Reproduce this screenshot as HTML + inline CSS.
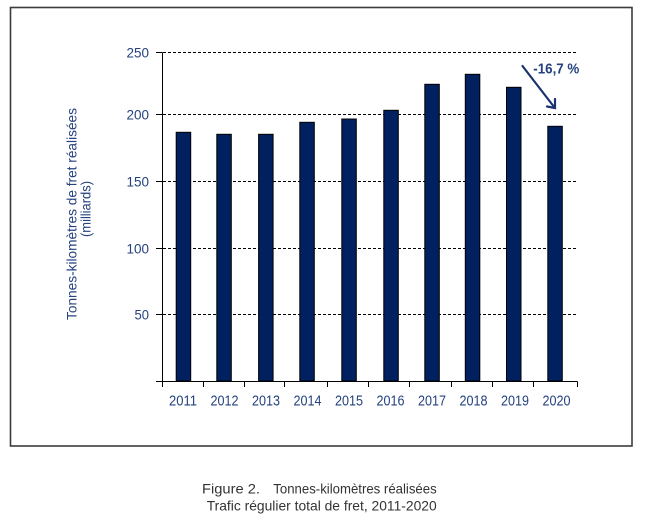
<!DOCTYPE html>
<html>
<head>
<meta charset="utf-8">
<style>
  html, body { margin:0; padding:0; background:#ffffff; }
  body { width:653px; height:524px; overflow:hidden; }
  svg { display:block; }
  text { font-family: "Liberation Sans", Arial, sans-serif; }
</style>
</head>
<body>
<svg width="653" height="524" viewBox="0 0 653 524" xmlns="http://www.w3.org/2000/svg">
  <rect x="0" y="0" width="653" height="524" fill="#ffffff"/>
  <!-- frame -->
  <rect x="10.5" y="7.5" width="621.5" height="438.5" fill="none" stroke="#3c3c3c" stroke-width="1.6"/>

  <!-- gridlines -->
  <g stroke="#000" stroke-width="1" stroke-dasharray="3 2" fill="none">
    <line x1="163" y1="52.5" x2="577.5" y2="52.5"/>
    <line x1="163" y1="114.5" x2="577.5" y2="114.5"/>
    <line x1="163" y1="181.5" x2="577.5" y2="181.5"/>
    <line x1="163" y1="248.5" x2="577.5" y2="248.5"/>
    <line x1="163" y1="314.5" x2="577.5" y2="314.5"/>
  </g>

  <!-- bars -->
  <g fill="#002060" stroke="#000" stroke-width="1">
    <rect x="176.2" y="132.3" width="14.5" height="248.7"/>
    <rect x="216.8" y="134.3" width="14.5" height="246.7"/>
    <rect x="258.6" y="134.3" width="14.5" height="246.7"/>
    <rect x="299.8" y="122.3" width="14.5" height="258.7"/>
    <rect x="341.8" y="119" width="14.5" height="262"/>
    <rect x="383.8" y="110.3" width="14.5" height="270.7"/>
    <rect x="424.8" y="84.3" width="14.5" height="296.7"/>
    <rect x="465.3" y="74.3" width="14.5" height="306.7"/>
    <rect x="506.5" y="87.3" width="14.5" height="293.7"/>
    <rect x="547.8" y="126.3" width="14.5" height="254.7"/>
  </g>

  <!-- axes -->
  <g stroke="#000" stroke-width="1" fill="none">
    <line x1="162.5" y1="52.5" x2="162.5" y2="381.5"/>
    <line x1="156" y1="381.5" x2="577.5" y2="381.5"/>
    <line x1="156" y1="52.5" x2="162.5" y2="52.5"/>
    <line x1="156" y1="114.5" x2="162.5" y2="114.5"/>
    <line x1="156" y1="181.5" x2="162.5" y2="181.5"/>
    <line x1="156" y1="248.5" x2="162.5" y2="248.5"/>
    <line x1="156" y1="314.5" x2="162.5" y2="314.5"/>
    <line x1="162.5" y1="381.5" x2="162.5" y2="387"/>
    <line x1="203.5" y1="381.5" x2="203.5" y2="387"/>
    <line x1="244.5" y1="381.5" x2="244.5" y2="387"/>
    <line x1="284.5" y1="381.5" x2="284.5" y2="387"/>
    <line x1="327.5" y1="381.5" x2="327.5" y2="387"/>
    <line x1="368.5" y1="381.5" x2="368.5" y2="387"/>
    <line x1="409.5" y1="381.5" x2="409.5" y2="387"/>
    <line x1="451.5" y1="381.5" x2="451.5" y2="387"/>
    <line x1="492.5" y1="381.5" x2="492.5" y2="387"/>
    <line x1="533.5" y1="381.5" x2="533.5" y2="387"/>
    <line x1="577.5" y1="381.5" x2="577.5" y2="387"/>
  </g>

  <!-- y tick labels -->
  <g fill="#25427f" font-size="13.5" text-anchor="end">
    <text x="149" y="57.6" textLength="22.5" lengthAdjust="spacingAndGlyphs">250</text>
    <text x="149" y="119.6" textLength="22.5" lengthAdjust="spacingAndGlyphs">200</text>
    <text x="149" y="186.4" textLength="22.5" lengthAdjust="spacingAndGlyphs">150</text>
    <text x="149" y="253.4" textLength="22.5" lengthAdjust="spacingAndGlyphs">100</text>
    <text x="149" y="319.4" textLength="14.5" lengthAdjust="spacingAndGlyphs">50</text>
  </g>

  <!-- x labels -->
  <g fill="#25427f" font-size="14.5">
    <text x="169" y="405.5" textLength="28" lengthAdjust="spacingAndGlyphs">2011</text>
    <text x="210.5" y="405.5" textLength="28" lengthAdjust="spacingAndGlyphs">2012</text>
    <text x="252" y="405.5" textLength="28" lengthAdjust="spacingAndGlyphs">2013</text>
    <text x="293.5" y="405.5" textLength="28" lengthAdjust="spacingAndGlyphs">2014</text>
    <text x="335" y="405.5" textLength="28" lengthAdjust="spacingAndGlyphs">2015</text>
    <text x="376.5" y="405.5" textLength="28" lengthAdjust="spacingAndGlyphs">2016</text>
    <text x="418" y="405.5" textLength="28" lengthAdjust="spacingAndGlyphs">2017</text>
    <text x="459.5" y="405.5" textLength="28" lengthAdjust="spacingAndGlyphs">2018</text>
    <text x="501" y="405.5" textLength="28" lengthAdjust="spacingAndGlyphs">2019</text>
    <text x="542.5" y="405.5" textLength="28" lengthAdjust="spacingAndGlyphs">2020</text>
  </g>

  <!-- y axis title -->
  <g fill="#25427f" font-size="14" text-anchor="middle">
    <text transform="translate(76.5,214) rotate(-90)" textLength="212" lengthAdjust="spacingAndGlyphs">Tonnes-kilomètres de fret réalisées</text>
    <text transform="translate(90.5,209) rotate(-90)" textLength="56" lengthAdjust="spacingAndGlyphs">(milliards)</text>
  </g>

  <!-- annotation arrow -->
  <g stroke="#1a3370" stroke-width="2.2" fill="none" stroke-linecap="round" stroke-linejoin="miter">
    <line x1="522.5" y1="66" x2="554.5" y2="107.5"/>
    <polyline points="555,99 555,108 547,106.5"/>
  </g>
  <text x="533.3" y="73.6" fill="#25427f" font-size="14.5" font-weight="bold" textLength="46" lengthAdjust="spacingAndGlyphs">-16,7 %</text>

  <!-- caption -->
  <g fill="#333333" font-size="14">
    <text x="202" y="493.3" textLength="58" lengthAdjust="spacingAndGlyphs">Figure 2.</text>
    <text x="273.3" y="493.3" textLength="163.4" lengthAdjust="spacingAndGlyphs">Tonnes-kilomètres réalisées</text>
    <text x="206.7" y="510.5" textLength="230" lengthAdjust="spacingAndGlyphs">Trafic régulier total de fret, 2011-2020</text>
  </g>
</svg>
</body>
</html>
